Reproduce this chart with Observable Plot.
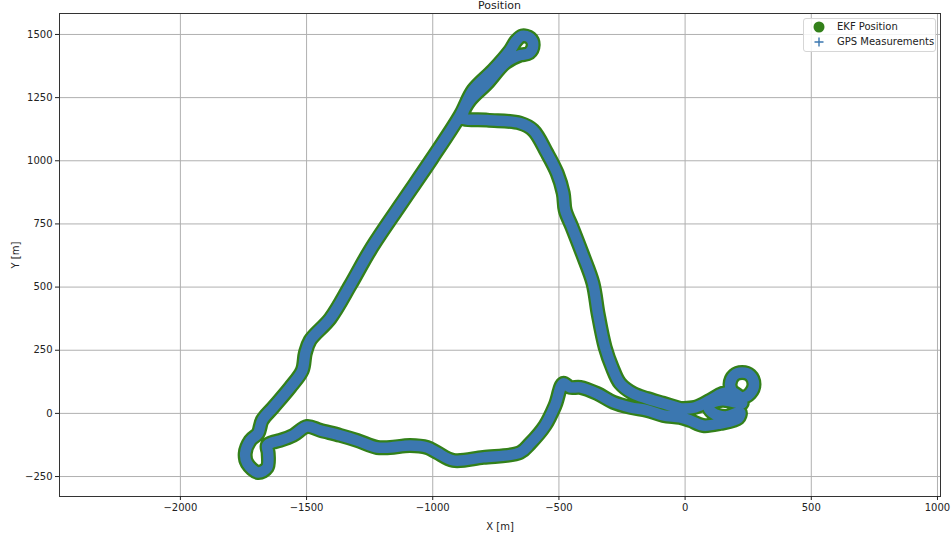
<!DOCTYPE html>
<html>
<head>
<meta charset="utf-8">
<script src="https://cdn.jsdelivr.net/npm/d3@7"></script>
<script src="https://cdn.jsdelivr.net/npm/@observablehq/plot@0.6"></script>
<style>
  html, body { margin: 0; padding: 0; background: #fff; overflow: hidden; }
  #wrap { position: relative; width: 952px; height: 535px; font-family: "DejaVu Sans", sans-serif; }
  #title { position: absolute; left: 59px; width: 881px; top: 0px; text-align: center; font-size: 11px; line-height: 12px; color: #222; }
  #legend { position: absolute; left: 803px; top: 18px; width: 131px; height: 32px; border: 1px solid #d6d6d6; border-radius: 3px; background: rgba(255,255,255,0.85); font-size: 10px; color: #222; }
  .row { position: absolute; left: 0; height: 14px; line-height: 14px; }
  .sym { position: absolute; left: 8px; width: 14px; height: 14px; }
  .lab { position: absolute; left: 33px; white-space: nowrap; }
</style>
</head>
<body>
<div id="wrap">
  <div id="chart"></div>
  <div id="title">Position</div>
  <div id="legend">
    <div class="row" style="top:1px"><svg class="sym" viewBox="0 0 14 14"><circle cx="7" cy="7" r="5.5" fill="#338019"/></svg><span class="lab">EKF Position</span></div>
    <div class="row" style="top:16px"><svg class="sym" viewBox="0 0 14 14"><path d="M7 2.5V11.5M2.5 7H11.5" stroke="#3b77b0" stroke-width="1.4"/></svg><span class="lab">GPS Measurements</span></div>
  </div>
</div>
<script>
// Trajectory (metres)
const trackX = [-20, 40, 99, 147, 190, 226, 258, 273, 258, 226, 194, 178, 190, 226, 147, 91, 107, 159, 218, 210, 139, 71, 20, -20,
  -87, -151, -218, -285, -349, -416, -456, -483, -515, -555, -614, -654, -800, -919, -983, -1022, -1090, -1169, -1220,
  -1300, -1367, -1446, -1498, -1553, -1605, -1636, -1656, -1652, -1656, -1692, -1735, -1743, -1723, -1692, -1676,
  -1632, -1565, -1517, -1505, -1486, -1406, -1327, -1248, -1129, -1002, -891, -840, -761, -693, -670, -646, -614, -602,
  -618, -654, -713, -784, -852, -880, -880, -784, -654, -602, -547, -507, -483, -475, -448, -408, -365, -345, -317,
  -289, -258, -206, -151, -87, -20];
const trackY = [20, 24, 52, 79, 83, 63, 79, 115, 151, 162, 151, 115, 79, 40, 52, 32, 4, -12, 4, -20, -40, -48, -28, -16,
  -8, 12, 24, 44, 79, 103, 103, 119, 32, -48, -119, -155, -174, -186, -155, -135, -127, -135, -135,
  -107, -87, -67, -52, -87, -107, -115, -127, -158, -214, -234, -198, -158, -107, -79, -28,
  24, 103, 170, 238, 289, 376, 507, 646, 824, 1010, 1181, 1280, 1359, 1438, 1474, 1494, 1486, 1458,
  1426, 1418, 1387, 1307, 1240, 1189, 1169, 1161, 1149, 1121, 1030, 951, 872, 804, 737, 634, 515, 396, 262,
  182, 119, 79, 59, 40, 20];
const xTicks = [-2000, -1500, -1000, -500, 0, 500, 1000];
const yTicks = [-250, 0, 250, 500, 750, 1000, 1250, 1500];

const track = trackX.map((x, i) => ({x, y: trackY[i]}));

const chart = Plot.plot({
  width: 952,
  height: 535,
  marginTop: 13,
  marginLeft: 59,
  marginRight: 12,
  marginBottom: 39,
  style: {fontFamily: "DejaVu Sans, sans-serif", fontSize: "10px", color: "#222", background: "#fff"},
  x: {domain: [-2479, 1012], ticks: xTicks, tickFormat: "d"},
  y: {domain: [-329, 1583], ticks: yTicks, tickFormat: "d"},
  marks: [
    Plot.gridX(xTicks, {stroke: "#b0b0b0", strokeOpacity: 1, strokeWidth: 1}),
    Plot.gridY(yTicks, {stroke: "#b0b0b0", strokeOpacity: 1, strokeWidth: 1}),
    Plot.line(track, {x: "x", y: "y", curve: "catmull-rom", stroke: "#338019", strokeWidth: 15, strokeLinejoin: "round", strokeLinecap: "round"}),
    Plot.line(track, {x: "x", y: "y", curve: "catmull-rom", stroke: "#3b77b0", strokeWidth: 10.5, strokeLinejoin: "round", strokeLinecap: "round"}),
    Plot.frame({stroke: "#333", strokeWidth: 1}),
    Plot.axisX(xTicks, {tickSize: 4, tickPadding: 3, tickFormat: "d", label: "X [m]", labelAnchor: "center", labelArrow: "none", labelOffset: 33}),
    Plot.axisY(yTicks, {tickSize: 4, tickPadding: 3, tickFormat: "d", label: "Y [m]", labelAnchor: "center", labelArrow: "none", labelOffset: 48})
  ]
});
document.getElementById("chart").appendChild(chart);
</script>
</body>
</html>
